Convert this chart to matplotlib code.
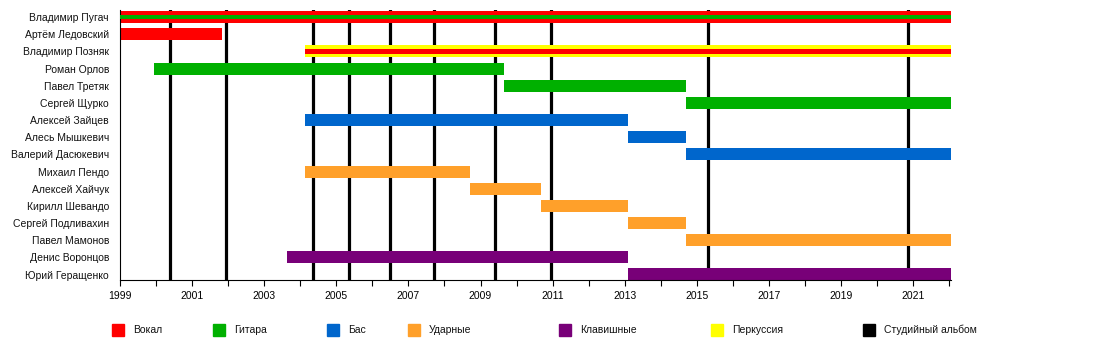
import matplotlib.pyplot as plt
from matplotlib.patches import Rectangle

plt.rcParams['font.family'] = ['Liberation Sans', 'DejaVu Sans']

# участники сверху вниз
members = ['Владимир Пугач', 'Артём Ледовский', 'Владимир Позняк', 'Роман Орлов',
           'Павел Третяк', 'Сергей Щурко', 'Алексей Зайцев', 'Алесь Мышкевич',
           'Валерий Дасюкевич', 'Михаил Пендо', 'Алексей Хайчук', 'Кирилл Шевандо',
           'Сергей Подливахин', 'Павел Мамонов', 'Денис Воронцов', 'Юрий Геращенко']

# периоды в составе (десятичные годы), роль, дополнительная роль
start = [1999.0, 1999.0, 2004.14, 1999.94, 2009.66, 2014.69, 2004.14, 2013.09,
         2014.69, 2004.14, 2008.71, 2010.69, 2013.09, 2014.69, 2003.64, 2013.09]
end_date = 2022.05
end = [end_date, 2001.82, end_date, 2009.66, 2014.69, end_date, 2013.09, 2014.69,
       end_date, 2008.71, 2010.69, 2013.09, 2014.69, end_date, 2013.09, end_date]
role = ['vocal', 'vocal', 'perc', 'guitar', 'guitar', 'guitar', 'bass', 'bass',
        'bass', 'drums', 'drums', 'drums', 'drums', 'drums', 'keys', 'keys']
role2 = ['guitar', None, 'vocal', None, None, None, None, None,
         None, None, None, None, None, None, None, None]

albums = [2000.40, 2001.94, 2004.34, 2005.34, 2006.48, 2007.70, 2009.40,
          2010.96, 2015.31, 2020.87]

colors = {'vocal': '#ff0000', 'guitar': '#00b000', 'bass': '#0066cc',
          'drums': '#ffa02a', 'keys': '#780078', 'perc': '#ffff00', 'album': '#000000'}
legend_keys = ['vocal', 'guitar', 'bass', 'drums', 'keys', 'perc', 'album']
legend_names = ['Вокал', 'Гитара', 'Бас', 'Ударные', 'Клавишные', 'Перкуссия',
                'Студийный альбом']

fig = plt.figure(figsize=(11, 3.6), dpi=100)
ax = fig.add_axes([120 / 1100, 1 - 280 / 360, (951 - 120) / 1100, 270 / 360])

for x in albums:
    ax.axvline(x, color='black', lw=2.3, zorder=1)

for i, m in enumerate(members):
    ax.barh(i, end[i] - start[i], left=start[i], height=0.7,
            color=colors[role[i]], zorder=2)
    if role2[i]:
        ax.barh(i, end[i] - start[i], left=start[i], height=0.27,
                color=colors[role2[i]], zorder=3)

ax.set_xlim(1999, end_date)
ax.set_ylim(15.32, -0.41)
ax.set_yticks(range(len(members)))
ax.set_yticklabels(members, fontsize=7.5, color='#111111')
ax.tick_params(axis='y', length=0, pad=8)
ax.set_xticks(range(1999, 2022, 2))
ax.set_xticks(range(1999, 2023), minor=True)
ax.tick_params(axis='x', which='both', length=4, width=0.8, labelsize=7.5,
               pad=4, direction='out')
for s in ['top', 'right']:
    ax.spines[s].set_visible(False)
ax.spines['left'].set_linewidth(0.8)
ax.spines['bottom'].set_linewidth(0.8)

# легенда
leg_x = [112, 213, 327, 408, 559, 711, 863]
for px, k, name in zip(leg_x, legend_keys, legend_names):
    fig.patches.append(Rectangle((px / 1100, 1 - 336 / 360), 12 / 1100, 12 / 360,
                                 transform=fig.transFigure, color=colors[k]))
    fig.text((px + 21) / 1100, 1 - 330 / 360, name, fontsize=7.5, va='center',
             color='#111111')

fig.savefig('out.png', dpi=100)
